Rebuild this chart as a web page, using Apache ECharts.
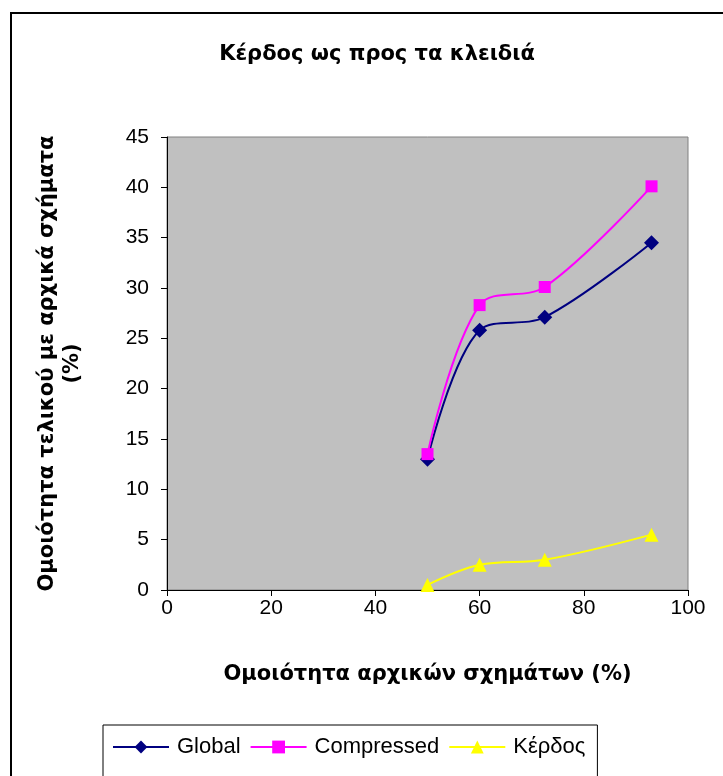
<!DOCTYPE html>
<html>
<head>
<meta charset="utf-8">
<script src="https://cdn.jsdelivr.net/npm/echarts@6/dist/echarts.min.js"></script>
<style>html,body{margin:0;padding:0;background:#fff}#c{width:723px;height:776px}</style>
</head>
<body>
<div id="c"></div>
<script>
var xValues = [50, 60, 72.5, 93];
var globalValues = [13, 25.8, 27.1, 34.5];
var compressedValues = [13.5, 28.3, 30.1, 40.1];
var kerdosValues = [0.5, 2.5, 3.0, 5.5];
var seriesNames = ['Global', 'Compressed', 'Κέρδος'];
var titleText = 'Κέρδος ως προς τα κλειδιά';
var xAxisName = 'Ομοιότητα αρχικών σχημάτων (%)';
var yAxisName = 'Ομοιότητα τελικού με αρχικά σχήματα\n(%)';

function pairs(xs, ys) { return xs.map(function (x, i) { return [x, ys[i]]; }); }

var font = '"Liberation Sans", Arial, sans-serif';
var boldFont = '"DejaVu Sans", sans-serif';
var chart = echarts.init(document.getElementById('c'));
chart.setOption({
  animation: false,
  backgroundColor: '#fff',
  textStyle: { fontFamily: font },
  title: {
    text: titleText, left: 372, top: 39, textAlign: 'center',
    textStyle: { fontSize: 21, fontWeight: 'bold', color: '#000', fontFamily: boldFont }
  },
  graphic: [
    { type: 'rect', shape: { x: 11, y: 13, width: 900, height: 900 }, style: { fill: 'none', stroke: '#000', lineWidth: 2 }, silent: true }
  ],
  grid: {
    left: 167, right: 35, top: 137, bottom: 186,
    show: true, backgroundColor: '#C0C0C0', borderColor: '#808080', borderWidth: 1
  },
  xAxis: {
    type: 'value', min: 0, max: 100, interval: 20,
    name: xAxisName, nameLocation: 'middle', nameGap: 74,
    nameTextStyle: { fontSize: 21, fontWeight: 'bold', color: '#000', fontFamily: boldFont },
    axisLine: { show: true, lineStyle: { color: '#000', width: 1 } },
    axisTick: { show: true, length: 6, lineStyle: { color: '#000' } },
    axisLabel: { fontSize: 21, color: '#000', margin: 8, fontFamily: font },
    splitLine: { show: false }
  },
  yAxis: {
    type: 'value', min: 0, max: 45, interval: 5,
    name: yAxisName, nameLocation: 'middle', nameGap: 82, nameRotate: 90,
    nameTextStyle: { fontSize: 21, fontWeight: 'bold', color: '#000', lineHeight: 25, fontFamily: boldFont },
    axisLine: { show: true, lineStyle: { color: '#000', width: 1 } },
    axisTick: { show: true, length: 6, lineStyle: { color: '#000' } },
    axisLabel: { fontSize: 21, color: '#000', margin: 18, fontFamily: font },
    splitLine: { show: false }
  },
  legend: {
    left: 103, top: 725,
    padding: [11, 12, 20, 9],
    itemGap: 9,
    itemWidth: 56, itemHeight: 16,
    borderColor: '#000', borderWidth: 1,
    backgroundColor: '#fff',
    textStyle: { fontSize: 22, color: '#000', fontFamily: font, padding: [0, 0, 0, 3] },
    data: seriesNames
  },
  series: [
    {
      name: seriesNames[0], type: 'line', smooth: 0.35,
      data: pairs(xValues, globalValues),
      symbol: 'diamond', symbolSize: 15,
      lineStyle: { color: '#000080', width: 2 },
      itemStyle: { color: '#000080' }, z: 3
    },
    {
      name: seriesNames[1], type: 'line', smooth: 0.35,
      data: pairs(xValues, compressedValues),
      symbol: 'rect', symbolSize: 12,
      lineStyle: { color: '#FF00FF', width: 2 },
      itemStyle: { color: '#FF00FF' }, z: 4
    },
    {
      name: seriesNames[2], type: 'line', smooth: 0.35,
      data: pairs(xValues, kerdosValues),
      symbol: 'triangle', symbolSize: 14,
      lineStyle: { color: '#FFFF00', width: 2 },
      itemStyle: { color: '#FFFF00' }, z: 3
    }
  ]
});
</script>
</body>
</html>
